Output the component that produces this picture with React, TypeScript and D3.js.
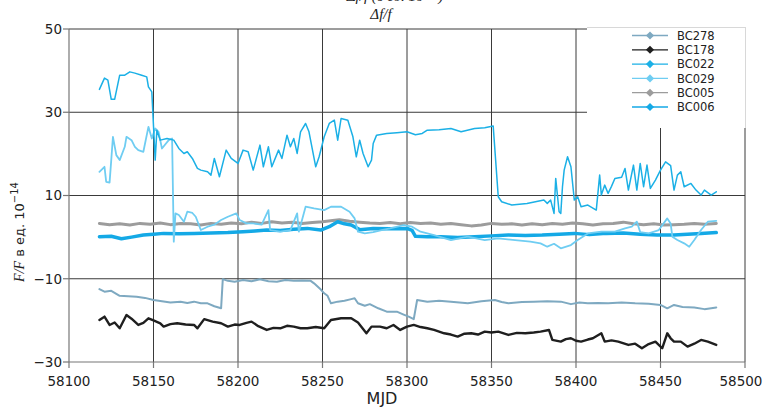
import * as d3 from 'd3';
import React from 'react';

// MJD / value pairs
const bc278: [number, number][] = [
  [58118, -12.5], [58121, -13.1], [58125, -12.9], [58130, -14.1], [58135, -14.2], [58140, -14.3],
  [58145, -14.6], [58150, -15.1], [58155, -15.4], [58160, -15.7], [58166, -15.5], [58170, -15.8],
  [58174, -15.5], [58178, -15.9], [58182, -15.9], [58186, -16.6], [58190, -17.1], [58191, -10.1],
  [58194, -10.5], [58198, -10.7], [58203, -10.3], [58208, -10.6], [58213, -10.1], [58218, -10.6],
  [58223, -10.7], [58228, -10.3], [58233, -10.5], [58238, -10.4], [58243, -10.5], [58245, -11.1],
  [58249, -12.6], [58251, -13.5], [58253, -14.1], [58255, -15.9], [58259, -15.5], [58263, -15.3],
  [58267, -14.9], [58269, -14.7], [58271, -15.9], [58275, -16.5], [58278, -16.1], [58283, -17.1],
  [58288, -17.9], [58294, -17.9], [58298, -18.6], [58301, -19.1], [58304, -19.7], [58306, -15.1],
  [58312, -15.5], [58319, -15.3], [58326, -15.5], [58331, -15.7], [58336, -15.9], [58344, -15.4],
  [58352, -15.1], [58356, -15.6], [58360, -15.9], [58368, -15.6], [58375, -15.5], [58383, -15.4],
  [58391, -15.5], [58397, -16.1], [58402, -15.7], [58407, -15.9], [58413, -15.8], [58419, -15.9],
  [58427, -15.7], [58435, -15.9], [58443, -16.0], [58450, -16.3], [58454, -17.1], [58458, -16.3],
  [58463, -16.8], [58470, -16.9], [58476, -17.3], [58483, -16.9],
];

const bc178: [number, number][] = [
  [58118, -19.9], [58121, -19.1], [58124, -21.1], [58127, -20.5], [58130, -21.9], [58134, -18.7],
  [58137, -19.6], [58141, -21.1], [58144, -20.6], [58147, -19.5], [58150, -20.0], [58154, -20.7],
  [58156, -21.5], [58160, -20.9], [58164, -20.7], [58169, -21.0], [58174, -21.1], [58176, -21.9],
  [58180, -19.7], [58185, -20.3], [58190, -20.7], [58194, -21.5], [58198, -21.0], [58201, -21.1],
  [58205, -20.6], [58208, -20.3], [58212, -21.4], [58217, -22.3], [58221, -21.8], [58225, -21.9],
  [58229, -21.3], [58233, -21.5], [58237, -21.9], [58241, -21.9], [58246, -21.6], [58251, -21.9],
  [58255, -19.9], [58261, -19.5], [58267, -19.5], [58271, -20.5], [58276, -23.1], [58279, -21.5],
  [58284, -21.5], [58288, -21.9], [58292, -21.1], [58296, -22.3], [58300, -21.5], [58304, -21.1],
  [58308, -21.6], [58312, -21.9], [58316, -22.3], [58322, -23.1], [58326, -23.4], [58330, -23.9],
  [58334, -23.2], [58338, -23.1], [58342, -23.4], [58346, -22.7], [58350, -22.9], [58354, -22.7],
  [58360, -23.5], [58365, -23.0], [58370, -23.1], [58375, -22.9], [58379, -22.7], [58384, -22.3],
  [58386, -24.7], [58391, -25.1], [58394, -24.5], [58397, -24.3], [58400, -24.9], [58403, -25.1],
  [58407, -24.6], [58410, -24.3], [58415, -23.1], [58417, -25.1], [58421, -24.8], [58425, -25.1],
  [58431, -25.9], [58435, -25.6], [58439, -26.7], [58443, -25.7], [58447, -25.1], [58451, -26.7],
  [58454, -23.1], [58456, -24.3], [58458, -25.1], [58462, -25.1], [58466, -26.3], [58470, -25.6],
  [58474, -24.7], [58478, -25.1], [58483, -25.9],
];

const bc022: [number, number][] = [
  [58118, 35.5], [58121, 38.2], [58123, 37.7], [58125, 33.1], [58127, 33.1], [58130, 38.9],
  [58133, 38.9], [58136, 39.7], [58139, 39.4], [58143, 38.9], [58146, 38.5], [58147, 36.1],
  [58149, 34.9], [58151, 18.5], [58152, 25.7], [58154, 23.3], [58158, 23.7], [58162, 23.3],
  [58165, 21.3], [58168, 20.1], [58170, 20.5], [58173, 18.9], [58176, 16.5], [58178, 16.1],
  [58182, 15.7], [58184, 14.9], [58186, 18.9], [58189, 14.5], [58193, 20.9], [58196, 18.9],
  [58200, 17.7], [58203, 20.9], [58206, 20.5], [58209, 16.1], [58213, 22.1], [58215, 16.9],
  [58218, 21.7], [58220, 16.9], [58224, 20.9], [58226, 18.9], [58229, 24.5], [58231, 21.7],
  [58233, 23.7], [58235, 20.1], [58237, 25.3], [58240, 27.3], [58242, 25.3], [58246, 16.9],
  [58248, 19.3], [58251, 24.1], [58254, 27.3], [58257, 28.1], [58259, 23.3], [58261, 28.5],
  [58265, 28.1], [58268, 24.1], [58270, 19.3], [58272, 23.3], [58274, 20.1], [58277, 16.9],
  [58279, 18.5], [58280, 22.5], [58282, 24.5], [58288, 24.9], [58294, 25.1], [58300, 25.3],
  [58305, 24.6], [58309, 24.9], [58312, 25.7], [58319, 25.8], [58326, 26.1], [58332, 25.3],
  [58340, 26.1], [58346, 26.3], [58351, 26.7], [58354, 9.7], [58356, 8.5], [58362, 7.7],
  [58371, 8.1], [58381, 8.9], [58383, 8.1], [58385, 8.9], [58387, 5.7], [58388, 14.1],
  [58390, 6.1], [58391, 5.7], [58392, 12.1], [58393, 16.1], [58395, 19.3], [58397, 16.9],
  [58399, 8.9], [58401, 9.7], [58403, 7.3], [58407, 7.7], [58412, 6.5], [58414, 14.9],
  [58415, 10.1], [58417, 12.5], [58419, 10.5], [58421, 12.2], [58423, 14.1], [58427, 14.4],
  [58429, 16.5], [58431, 11.3], [58434, 17.3], [58436, 11.3], [58438, 17.7], [58440, 12.1],
  [58442, 17.3], [58444, 11.7], [58447, 13.7], [58450, 16.1], [58453, 18.1], [58456, 17.2],
  [58458, 11.3], [58460, 14.9], [58462, 15.7], [58464, 12.1], [58468, 12.9], [58471, 11.3],
  [58474, 10.1], [58476, 11.3], [58480, 10.1], [58483, 10.9],
];

const bc029: [number, number][] = [
  [58118, 15.7], [58121, 16.9], [58122, 13.3], [58124, 13.1], [58125, 18.5], [58126, 24.1],
  [58128, 19.7], [58130, 18.5], [58133, 21.7], [58134, 24.1], [58137, 23.3], [58139, 21.7],
  [58141, 20.9], [58144, 20.5], [58147, 26.5], [58149, 23.7], [58151, 26.1], [58153, 25.3],
  [58155, 21.3], [58159, 23.3], [58161, 23.7], [58162, -1.1], [58163, 5.7], [58165, 5.3],
  [58168, 3.7], [58170, 6.1], [58173, 5.8], [58175, 4.9], [58178, 1.7], [58182, 2.5],
  [58186, 3.0], [58190, 4.1], [58194, 4.9], [58199, 5.7], [58201, 4.1], [58205, 3.3],
  [58209, 3.3], [58214, 3.0], [58218, 6.5], [58219, 1.7], [58225, 1.3], [58231, 1.7],
  [58235, 5.7], [58236, 1.3], [58240, 7.3], [58245, 6.9], [58251, 6.5], [58255, 7.3],
  [58261, 7.3], [58266, 6.1], [58269, 4.5], [58271, 1.3], [58275, 0.9], [58280, 1.2],
  [58285, 1.7], [58290, 2.1], [58298, 2.9], [58303, 2.5], [58308, 1.3], [58316, 0.5],
  [58326, -0.7], [58336, 0.1], [58346, -0.7], [58354, -0.3], [58364, -0.7], [58373, -1.1],
  [58379, -1.5], [58383, -2.3], [58387, -1.6], [58391, -2.7], [58397, -1.9], [58401, -0.7],
  [58407, 0.9], [58415, 1.3], [58423, 1.3], [58429, 2.1], [58433, 2.5], [58436, 3.7],
  [58438, 1.2], [58443, 0.9], [58449, 1.7], [58454, 4.5], [58456, 3.3], [58457, 0.1],
  [58460, -0.7], [58464, -1.5], [58467, -2.3], [58470, -0.7], [58474, 1.7], [58478, 3.7],
  [58483, 3.9],
];

const bc005: [number, number][] = [
  [58118, 3.3], [58124, 3.0], [58130, 3.2], [58136, 2.9], [58142, 3.3], [58148, 3.1],
  [58154, 3.4], [58160, 3.0], [58166, 3.3], [58172, 3.2], [58178, 2.9], [58184, 3.3],
  [58190, 3.1], [58196, 3.4], [58202, 3.2], [58208, 3.6], [58214, 3.3], [58220, 3.7],
  [58226, 3.4], [58232, 3.6], [58238, 3.3], [58244, 3.5], [58250, 3.7], [58256, 4.0],
  [58260, 4.2], [58266, 3.8], [58272, 3.6], [58278, 3.4], [58284, 3.3], [58290, 3.5],
  [58296, 3.2], [58302, 3.5], [58308, 3.3], [58314, 3.4], [58320, 3.1], [58326, 3.3],
  [58332, 3.0], [58338, 2.7], [58344, 2.9], [58350, 3.3], [58356, 3.1], [58362, 3.2],
  [58368, 2.9], [58374, 3.2], [58380, 3.0], [58386, 3.3], [58392, 3.1], [58398, 3.4],
  [58404, 3.2], [58410, 2.9], [58416, 3.2], [58422, 3.3], [58428, 3.6], [58434, 3.2],
  [58440, 3.0], [58446, 3.2], [58452, 2.9], [58458, 3.0], [58464, 3.1], [58470, 3.3],
  [58476, 3.1], [58483, 3.3],
];

const bc006: [number, number][] = [
  [58118, 0.1], [58125, 0.2], [58131, -0.4], [58137, 0.0], [58144, 0.5], [58150, 0.7],
  [58156, 0.9], [58165, 0.8], [58174, 0.9], [58184, 1.0], [58194, 1.1], [58203, 1.3],
  [58210, 1.5], [58217, 1.7], [58225, 1.6], [58233, 1.9], [58241, 2.1], [58249, 1.7],
  [58254, 2.5], [58259, 3.7], [58263, 3.2], [58267, 2.9], [58272, 1.8], [58280, 2.1],
  [58290, 2.0], [58300, 2.1], [58303, 1.6], [58305, 0.2], [58312, 0.1], [58320, 0.1],
  [58330, -0.1], [58340, 0.1], [58350, 0.3], [58360, 0.5], [58370, 0.4], [58380, 0.5],
  [58390, 0.7], [58399, 0.9], [58408, 0.6], [58418, 0.9], [58428, 1.0], [58438, 0.7],
  [58448, 0.5], [58458, 0.5], [58466, 0.7], [58474, 0.9], [58483, 1.1],
];

const xTicks = [58100, 58150, 58200, 58250, 58300, 58350, 58400, 58450, 58500];
const yTicks = [50, 30, 10, -10, -30];

const legendNames = ['BC278', 'BC178', 'BC022', 'BC029', 'BC005', 'BC006'];

// draw order: back to front
const series = [
  { name: 'BC005', data: bc005, color: '#9c9c9c', width: 3 },
  { name: 'BC006', data: bc006, color: '#14a9e6', width: 3.5 },
  { name: 'BC029', data: bc029, color: '#6fcdf2', width: 1.8 },
  { name: 'BC022', data: bc022, color: '#1bb0e6', width: 1.5 },
  { name: 'BC278', data: bc278, color: '#7ea9c1', width: 2 },
  { name: 'BC178', data: bc178, color: '#1f1f1f', width: 2.4 },
];

const W = 765;
const H = 408;
const m = { left: 69, right: 745, top: 29, bottom: 362 };

export default function App() {
  const x = d3.scaleLinear().domain([58100, 58500]).range([m.left, m.right]);
  const y = d3.scaleLinear().domain([-30, 50]).range([m.bottom, m.top]);
  const line = d3.line<[number, number]>().x(d => x(d[0])).y(d => y(d[1]));

  const lgX = 587, lgY = 27, lgW = 159, lgH = 101;
  const sans = 'DejaVu Sans, Verdana, sans-serif';
  const serif = 'Liberation Serif, Times New Roman, serif';

  return (
    <svg width={W} height={H} style={{ position: 'absolute', left: 0, top: 0, background: '#fff' }}>
      {/* header line, cropped at the top edge in the source */}
      <text x={395} y={1} textAnchor="middle" fontFamily={serif} fontStyle="italic" fontSize={15} fill="#222">
        Δf/f (в ед. 10⁻¹⁴)
      </text>
      <text x={381} y={19} textAnchor="middle" fontFamily={serif} fontStyle="italic" fontSize={15} fill="#222">
        Δf/f
      </text>

      {/* grid */}
      <g stroke="#3a3a3a" strokeWidth={1}>
        {yTicks.filter(t => t > -30).map(t => (
          <line key={'h' + t} x1={m.left} x2={m.right} y1={y(t)} y2={y(t)} />
        ))}
        {xTicks.filter(t => t > 58100).map(t => (
          <line key={'v' + t} x1={x(t)} x2={x(t)} y1={m.top} y2={m.bottom} />
        ))}
      </g>

      {/* axes */}
      <g stroke="#777" strokeWidth={1.2}>
        <line x1={m.left} x2={m.left} y1={m.top} y2={m.bottom} />
        <line x1={m.left} x2={m.right} y1={m.bottom} y2={m.bottom} />
        {yTicks.map(t => (
          <line key={'yt' + t} x1={m.left - 6} x2={m.left} y1={y(t)} y2={y(t)} />
        ))}
        {xTicks.map(t => (
          <line key={'xt' + t} x1={x(t)} x2={x(t)} y1={m.bottom} y2={m.bottom + 6} />
        ))}
      </g>
      <g fontFamily={sans} fontSize={13.5} fill="#222">
        {yTicks.map(t => (
          <text key={'yl' + t} x={m.left - 7} y={y(t)} dy="0.36em" textAnchor="end">
            {d3.format('')(t).replace('-', '−')}
          </text>
        ))}
        {xTicks.map((t, i) => (
          <text key={'xl' + t} x={x(t) - (i === xTicks.length - 1 ? 4 : 0)} y={386} textAnchor="middle">{t}</text>
        ))}
      </g>
      <text x={382} y={404} textAnchor="middle" fontFamily={sans} fontSize={16} fill="#222">MJD</text>
      <text transform="translate(24,232) rotate(-90)" textAnchor="middle" fontSize={13} fill="#222">
        <tspan fontFamily={serif} fontStyle="italic" fontSize={14}>F/F</tspan>
        <tspan fontFamily={sans}> в ед. 10</tspan>
        <tspan fontFamily={sans} fontSize={10} dy={-6}>−14</tspan>
      </text>

      {/* series */}
      <g fill="none" strokeLinejoin="round" strokeLinecap="round">
        {series.map(s => (
          <path key={s.name} d={line(s.data) ?? ''} stroke={s.color} strokeWidth={s.width} />
        ))}
      </g>

      {/* legend */}
      <rect x={lgX} y={lgY} width={lgW + 1} height={lgH} fill="#fff" />
      <g stroke="#d8d8d8" strokeWidth={1}>
        <line x1={lgX} x2={lgX + lgW} y1={lgY + 0.5} y2={lgY + 0.5} />
        <line x1={lgX + lgW - 0.5} x2={lgX + lgW - 0.5} y1={lgY} y2={lgY + lgH} />
      </g>
      <g fontFamily={sans} fontSize={11.5} fill="#222">
        {legendNames.map((n, i) => {
          const s = series.find(d => d.name === n)!;
          const cy = 35.5 + i * 14.3;
          return (
            <g key={n}>
              <line x1={632} x2={668} y1={cy} y2={cy} stroke={s.color} strokeWidth={1.3} />
              <path d={d3.symbol(d3.symbolDiamond2, 42)() ?? ''} transform={`translate(650,${cy})`} fill={s.color} />
              <text x={677} y={cy} dy="0.36em">{n}</text>
            </g>
          );
        })}
      </g>
    </svg>
  );
}
